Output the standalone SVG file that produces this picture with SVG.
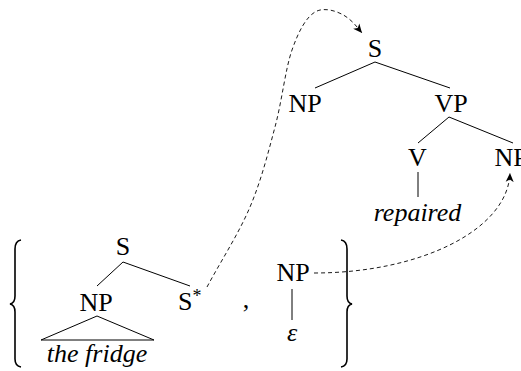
<svg xmlns="http://www.w3.org/2000/svg" width="521" height="371" viewBox="0 0 521 371">
<defs>
<marker id="arr" markerWidth="10" markerHeight="10" viewBox="0 0 10 10" refX="9" refY="5" orient="auto" markerUnits="userSpaceOnUse">
<path d="M0,1 L9,5 L0,9 L2.5,5 Z" fill="#000"/>
</marker>
</defs>
<g id="edges" stroke="#000" stroke-width="1" fill="none">
<path d="M375,62 L315,88 M375,62 L450,88"/>
<path d="M449,117 L418,143 M449,117 L513,143"/>
<path d="M418,172 L418,197"/>
<path d="M123,262 L97,286 M123,262 L190,286"/>
<path d="M97,316 L41,340 L154,340 Z"/>
<path d="M292,289 L292,320"/>
</g>
<g id="connectors" stroke="#000" stroke-width="0.9" fill="none" stroke-dasharray="4 3">
<path marker-end="url(#arr)" d="M207,287 C221.3,260.3 238.7,233.7 250,207 C261.3,180.3 268,153.2 275,127 C282,100.8 285.3,69.2 292,50 C298.7,30.8 306.2,17.3 315,12 C323.8,6.7 337.2,11 345,16 C352.8,21 357,27 362,33"/>
<path marker-end="url(#arr)" d="M314,273 C420,273 508,230 510,173"/>
</g>
<g font-family="Liberation Serif, Times New Roman, serif" font-size="26" fill="#000" text-anchor="middle">
<g id="top-S"><text x="375" y="57">S</text></g>
<g id="top-NP"><text x="305" y="112">NP</text></g>
<g id="top-VP"><text x="451" y="112">VP</text></g>
<g id="top-V"><text x="417.5" y="166">V</text></g>
<g id="top-NP2"><text x="511" y="166">NP</text></g>
<g id="repaired"><text font-style="italic" x="417.5" y="221">repaired</text></g>
<g id="bot-S"><text x="123" y="255">S</text></g>
<g id="bot-NP"><text x="96" y="311">NP</text></g>
<g id="bot-Sstar"><text x="178" y="310" text-anchor="start">S<tspan font-size="18" dy="-8">*</tspan></text></g>
<g id="fridge"><text font-style="italic" x="97" y="362">the fridge</text></g>
<g id="comma"><text x="246" y="308">,</text></g>
<g id="bot-NP2"><text x="293" y="281">NP</text></g>
<g id="epsilon"><text font-style="italic" x="292" y="341">ε</text></g>
</g>
<g id="left-brace"><path stroke="#000" stroke-width="1.6" fill="none" d="M21,240 Q15,241 15,249 L15,296 Q15,303 10,304 Q15,305 15,312 L15,359 Q15,366 21,367"/></g>
<g id="right-brace"><path stroke="#000" stroke-width="1.6" fill="none" d="M341,240 Q347,241 347,249 L347,296 Q347,303 352,304 Q347,305 347,312 L347,359 Q347,366 341,367"/></g>
</svg>
